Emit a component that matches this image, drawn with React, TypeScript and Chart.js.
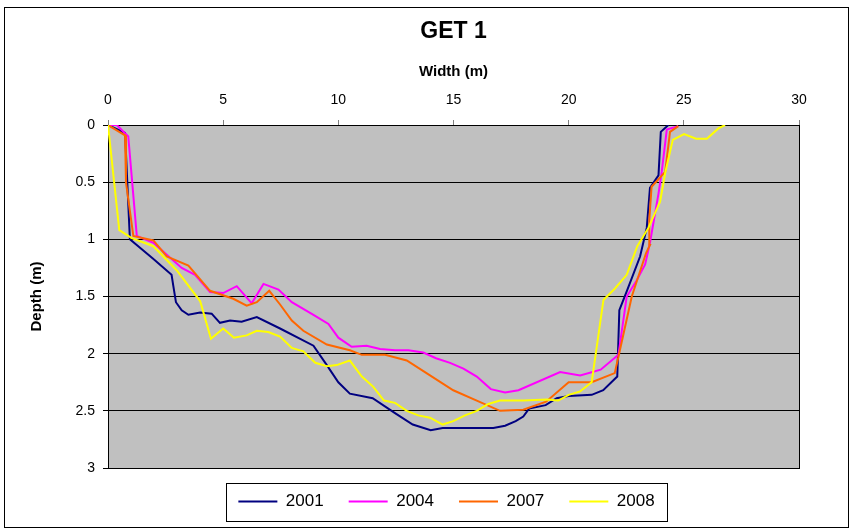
import React, { useEffect, useRef } from "react";
import { Chart, registerables } from "chart.js";

Chart.register(...registerables);

const chartTitle = "GET 1";
const xAxisTitle = "Width (m)";
const yAxisTitle = "Depth (m)";
const xTickValues = [0, 5, 10, 15, 20, 25, 30];
const yTickValues = [0, 0.5, 1, 1.5, 2, 2.5, 3];
const seriesLabels = ["2001", "2004", "2007", "2008"];
const seriesColors = ["#000080", "#FF00FF", "#FF6600", "#FFFF00"];

const width2001 = [0, 0.74, 0.95, 1.96, 2.76, 2.83, 2.95, 3.2, 3.49, 4.0, 4.5, 4.86, 5.3, 5.8, 6.46, 7.47, 8.92, 9.5, 10.0, 10.5, 11.49, 12.46, 13.23, 14.01, 14.53, 16.73, 17.24, 17.7, 18.03, 18.28, 19.0, 19.48, 20.0, 21.0, 21.5, 22.11, 22.2, 22.55, 23.1, 23.39, 23.53, 23.9, 24.0, 24.33];
const depth2001 = [0, 0.07, 1.0, 1.17, 1.31, 1.4, 1.55, 1.62, 1.66, 1.64, 1.65, 1.73, 1.71, 1.72, 1.68, 1.78, 1.93, 2.1, 2.25, 2.35, 2.39, 2.52, 2.62, 2.67, 2.65, 2.65, 2.63, 2.59, 2.55, 2.48, 2.45, 2.39, 2.37, 2.36, 2.32, 2.2, 1.62, 1.44, 1.15, 0.9, 0.55, 0.44, 0.06, 0];

const width2004 = [0, 0.38, 0.88, 1.25, 1.97, 3.2, 3.78, 4.43, 5.0, 5.59, 6.24, 6.75, 7.4, 7.98, 8.92, 9.57, 10.0, 10.58, 11.23, 11.81, 12.46, 13.04, 13.69, 14.24, 14.85, 15.43, 16.01, 16.62, 17.24, 17.82, 19.63, 20.5, 21.39, 22.16, 22.52, 22.95, 23.32, 23.53, 23.9, 24.04, 24.26, 24.76];
const depth2004 = [0, 0, 0.1, 0.97, 1.03, 1.25, 1.31, 1.46, 1.47, 1.41, 1.56, 1.39, 1.44, 1.55, 1.66, 1.74, 1.86, 1.94, 1.93, 1.96, 1.97, 1.97, 1.99, 2.04, 2.08, 2.13, 2.2, 2.31, 2.34, 2.32, 2.16, 2.19, 2.14, 2.01, 1.5, 1.36, 1.22, 1.03, 0.6, 0.41, 0.04, 0.01];

const width2007 = [0, 0.74, 0.78, 1.1, 1.97, 2.55, 3.49, 4.43, 5.44, 6.02, 6.46, 7.0, 7.47, 7.98, 8.48, 9.5, 10.5, 11.02, 12.03, 12.97, 13.98, 14.99, 16.01, 17.02, 18.03, 19.02, 20.0, 21.0, 22.0, 22.19, 22.74, 23.36, 23.53, 23.5, 23.6, 24.19, 24.4, 24.76];
const depth2007 = [0, 0.09, 0.5, 0.97, 1.01, 1.15, 1.23, 1.45, 1.52, 1.58, 1.55, 1.45, 1.57, 1.71, 1.8, 1.92, 1.97, 2.01, 2.01, 2.06, 2.19, 2.32, 2.41, 2.5, 2.49, 2.42, 2.25, 2.25, 2.17, 2.0, 1.5, 1.12, 1.05, 0.83, 0.54, 0.41, 0.06, 0.01];

const width2008 = [0, 0.49, 1.03, 1.97, 2.98, 4.0, 4.47, 5.0, 5.47, 6.02, 6.46, 6.96, 7.47, 7.98, 8.48, 9.0, 9.5, 9.93, 10.5, 11.02, 11.52, 11.98, 12.46, 12.97, 13.47, 13.98, 14.53, 14.99, 15.5, 16.01, 16.51, 17.02, 18.03, 19.05, 19.55, 20.0, 20.5, 21.0, 21.51, 22.01, 22.52, 22.98, 23.46, 23.97, 24.19, 24.52, 25.01, 25.53, 26.0, 26.5, 26.79];
const depth2008 = [0, 0.92, 0.99, 1.06, 1.27, 1.54, 1.87, 1.78, 1.86, 1.84, 1.8, 1.81, 1.85, 1.95, 1.98, 2.08, 2.11, 2.1, 2.06, 2.2, 2.29, 2.41, 2.43, 2.5, 2.54, 2.56, 2.62, 2.59, 2.54, 2.5, 2.44, 2.41, 2.41, 2.4, 2.41, 2.36, 2.33, 2.25, 1.53, 1.43, 1.31, 1.06, 0.9, 0.67, 0.42, 0.13, 0.08, 0.12, 0.12, 0.03, 0];

const seriesWidths = [width2001, width2004, width2007, width2008];
const seriesDepths = [depth2001, depth2004, depth2007, depth2008];

const FONT = "'Liberation Sans', Arial, sans-serif";
const LEGEND_SHIFT = 47;

function toPoints(xs: number[], ys: number[]) {
  return xs.map((x, i) => ({ x, y: ys[i] }));
}

const framePlugin = {
  id: "frame",
  afterLayout(chart: any) {
    const ca = chart.chartArea;
    const t = chart.titleBlock;
    if (t) {
      t.left = ca.left;
      t.right = ca.right;
    }
    const lg = chart.legend;
    if (lg) {
      lg.left += LEGEND_SHIFT;
      lg.right += LEGEND_SHIFT;
    }
  },
  beforeDraw(chart: any) {
    const ctx = chart.ctx;
    const ca = chart.chartArea;
    ctx.save();
    ctx.fillStyle = "#ffffff";
    ctx.fillRect(0, 0, chart.width, chart.height);
    ctx.strokeStyle = "#000000";
    ctx.lineWidth = 1;
    ctx.strokeRect(4.5, 7.5, 844, 520);
    ctx.fillStyle = "#C0C0C0";
    ctx.fillRect(ca.left, ca.top, ca.right - ca.left, ca.bottom - ca.top);
    ctx.restore();
  },
  beforeDatasetsDraw(chart: any) {
    const ctx = chart.ctx;
    const ca = chart.chartArea;
    ctx.save();
    ctx.strokeStyle = "#000000";
    ctx.lineWidth = 1;
    ctx.strokeRect(Math.round(ca.left) + 0.5, Math.round(ca.top) + 0.5, Math.round(ca.right - ca.left), Math.round(ca.bottom - ca.top));
    ctx.restore();
  },
  afterDraw(chart: any) {
    const lg = chart.legend;
    if (!lg || !lg.legendHitBoxes || !lg.legendHitBoxes.length) return;
    const hb = lg.legendHitBoxes;
    const first = hb[0];
    const last = hb[hb.length - 1];
    const cy = first.top + first.height / 2;
    const x0 = Math.round(first.left - 12) + 0.5;
    const x1 = Math.round(last.left + last.width + 12) + 0.5;
    const ctx = chart.ctx;
    ctx.save();
    ctx.strokeStyle = "#000000";
    ctx.lineWidth = 1;
    ctx.strokeRect(x0, Math.round(cy - 19) + 0.5, x1 - x0, 38);
    ctx.restore();
  },
};

export default function App() {
  const ref = useRef<HTMLCanvasElement>(null);
  useEffect(() => {
    const canvas = ref.current;
    if (!canvas) return;
    const datasets = seriesLabels.map((label, i) => ({
      label,
      data: toPoints(seriesWidths[i], seriesDepths[i]),
      borderColor: seriesColors[i],
      backgroundColor: seriesColors[i],
      borderWidth: 2,
      showLine: true,
      pointRadius: 0,
      pointHoverRadius: 0,
      fill: false,
      tension: 0,
      order: seriesLabels.length - 1 - i,
    }));
    const chart = new Chart(canvas, {
      type: "scatter",
      data: { datasets },
      plugins: [framePlugin],
      options: {
        animation: false,
        responsive: false,
        devicePixelRatio: 1,
        layout: { padding: { top: 8, left: 0, right: 54, bottom: 9 } },
        font: { family: FONT },
        plugins: {
          title: {
            display: true,
            text: chartTitle,
            color: "#000",
            font: { family: FONT, size: 23, weight: "bold" },
            padding: { top: 10, bottom: 8 },
          },
          legend: {
            display: true,
            position: "bottom",
            labels: {
              usePointStyle: true,
              pointStyle: "line",
              pointStyleWidth: 39,
              color: "#000",
              font: { family: FONT, size: 17 },
              padding: 25,
              sort: (a: any, b: any) => a.datasetIndex - b.datasetIndex,
            },
          },
          tooltip: { enabled: false },
        },
        scales: {
          x: {
            type: "linear",
            position: "top",
            min: 0,
            max: 30,
            afterBuildTicks: (s: any) => {
              s.ticks = xTickValues.map((v) => ({ value: v }));
            },
            afterFit: (s: any) => {
              s.height = 71.4;
            },
            title: {
              display: true,
              text: xAxisTitle,
              color: "#000",
              font: { family: FONT, size: 15, weight: "bold" },
              padding: { top: 9, bottom: 0 },
            },
            ticks: {
              color: "#000",
              font: { family: FONT, size: 14 },
              padding: 11,
              maxRotation: 0,
              callback: (v: any) => String(v),
            },
            grid: {
              drawOnChartArea: false,
              drawTicks: true,
              tickLength: 5,
              tickColor: "#808080",
              color: "#808080",
            },
            border: { display: true, color: "#000" },
          },
          y: {
            type: "linear",
            reverse: true,
            min: 0,
            max: 3,
            afterBuildTicks: (s: any) => {
              s.ticks = yTickValues.map((v) => ({ value: v }));
            },
            afterFit: (s: any) => {
              s.width = 108;
            },
            title: {
              display: true,
              text: yAxisTitle,
              color: "#000",
              font: { family: FONT, size: 15, weight: "bold" },
              padding: { top: 28, bottom: 0 },
            },
            ticks: {
              color: "#000",
              font: { family: FONT, size: 14 },
              padding: 8,
              callback: (v: any) => String(v),
            },
            grid: {
              drawOnChartArea: true,
              drawTicks: true,
              tickLength: 5,
              color: "#000",
              tickColor: "#000",
              lineWidth: 1,
            },
            border: { display: true, color: "#000" },
          },
        },
      } as any,
    });
    return () => chart.destroy();
  }, []);
  return (
    <canvas
      ref={ref}
      width={853}
      height={529}
      style={{ position: "fixed", left: 0, top: 0, width: 853, height: 529 }}
    />
  );
}
